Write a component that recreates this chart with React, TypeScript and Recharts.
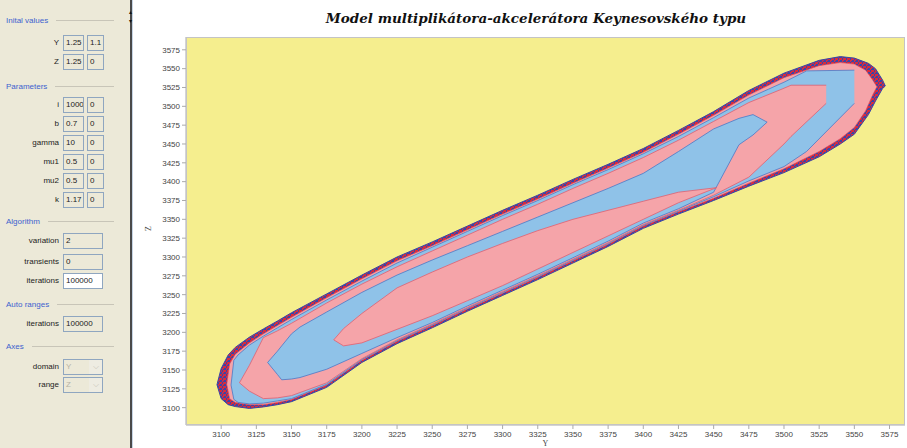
import React from "react";
import { ComposedChart, Area, XAxis, YAxis, CartesianGrid } from "recharts";

// contour levels of the attractor: [Y, Z low, Z high]
const ringLevel = [
  [3097, 3130.5, 3130.5], [3100, 3112, 3152], [3105, 3104, 3170], [3110, 3101.5, 3180],
  [3120, 3099, 3193.5], [3130, 3101, 3204.5], [3140, 3104, 3215], [3150, 3108, 3226],
  [3175, 3127, 3251], [3200, 3160, 3276], [3225, 3185, 3300], [3250, 3206, 3320],
  [3275, 3228, 3341], [3300, 3249, 3362], [3325, 3270, 3382], [3350, 3292, 3403],
  [3375, 3314, 3423], [3400, 3338, 3444], [3425, 3357, 3468], [3450, 3375, 3493],
  [3475, 3394, 3521], [3500, 3412, 3544], [3525, 3433, 3561], [3540, 3450, 3566],
  [3550, 3463, 3564], [3560, 3489, 3557], [3565, 3507, 3550], [3570, 3523.5, 3535],
  [3572, 3527, 3527],
];

const levelA = [
  [3104, 3131, 3131], [3106, 3112, 3158], [3110, 3107, 3171], [3120, 3104, 3186],
  [3130, 3104, 3198], [3140, 3107, 3209], [3150, 3111, 3220], [3175, 3130, 3246],
  [3200, 3163, 3271], [3225, 3188, 3295], [3250, 3209, 3315], [3275, 3231, 3336],
  [3300, 3252, 3357], [3325, 3273, 3377], [3350, 3295, 3398], [3375, 3317, 3418],
  [3400, 3341, 3439], [3425, 3360, 3463], [3450, 3378, 3488], [3475, 3398, 3515],
  [3500, 3417, 3538], [3525, 3440, 3554], [3540, 3457, 3558], [3550, 3472, 3556],
  [3558, 3494, 3548], [3563, 3515, 3535], [3566, 3526, 3526],
];

const levelB = [
  [3107, 3130, 3130], [3109, 3111, 3163], [3112, 3107, 3170], [3120, 3105, 3183],
  [3130, 3106, 3195], [3140, 3109, 3206], [3150, 3112, 3217], [3175, 3131, 3243],
  [3200, 3164, 3268], [3225, 3189, 3292], [3250, 3210, 3313], [3275, 3232, 3334],
  [3300, 3253, 3355], [3325, 3274, 3375], [3350, 3296, 3396], [3375, 3318, 3416],
  [3400, 3342, 3437], [3425, 3361, 3460], [3450, 3380, 3485], [3475, 3401, 3511],
  [3500, 3420, 3532], [3516, 3440, 3547], [3550, 3504, 3548],
];

const levelC = [
  [3113, 3133, 3133], [3120, 3122, 3156], [3130, 3112, 3193], [3140, 3113, 3202],
  [3150, 3116, 3212], [3175, 3133, 3239], [3200, 3165, 3264], [3225, 3190, 3287],
  [3250, 3211, 3308], [3275, 3233, 3329], [3300, 3254, 3350], [3325, 3275, 3370],
  [3350, 3297, 3391], [3375, 3319, 3411], [3400, 3343, 3432], [3425, 3362, 3455],
  [3450, 3382, 3480], [3475, 3406, 3505], [3500, 3450, 3524], [3505, 3460, 3528],
  [3530, 3504, 3528],
];

const levelD = [
  [3133, 3160, 3160], [3140, 3144, 3175], [3143, 3137, 3182], [3150, 3138, 3198],
  [3156, 3140, 3207], [3175, 3151, 3227], [3200, 3172, 3253], [3225, 3193, 3276],
  [3250, 3213, 3296], [3275, 3235, 3315], [3300, 3256, 3334], [3325, 3277, 3353],
  [3350, 3299, 3372], [3375, 3321, 3391], [3400, 3345, 3411], [3425, 3364, 3440],
  [3450, 3386, 3470], [3468, 3449, 3484], [3478, 3462, 3489], [3488, 3479, 3479],
];

const levelE = [
  [3180, 3190, 3190], [3187, 3182, 3205], [3200, 3186, 3225], [3225, 3204, 3259],
  [3250, 3222, 3280], [3275, 3242, 3300], [3300, 3262, 3318], [3325, 3284, 3335],
  [3350, 3306, 3350], [3375, 3328, 3362], [3400, 3350, 3374], [3425, 3372, 3386],
  [3452, 3392, 3392],
];

const axisTicks = [
  3100, 3125, 3150, 3175, 3200, 3225, 3250, 3275, 3300, 3325, 3350, 3375,
  3400, 3425, 3450, 3475, 3500, 3525, 3550, 3575,
];

const initialRows = [
  ["Y", "1.25", "1.1"],
  ["Z", "1.25", "0"],
];
const paramRows = [
  ["i", "1000", "0"],
  ["b", "0.7", "0"],
  ["gamma", "10", "0"],
  ["mu1", "0.5", "0"],
  ["mu2", "0.5", "0"],
  ["k", "1.17", "0"],
];

const toRows = (pts: number[][]) => pts.map(([x, lo, hi]) => ({ x, z: [lo, hi] }));

const PANEL_FONT = "'Liberation Sans', Arial, sans-serif";
const PINK = "#f5a4a9";
const BLUE = "#8fc2e8";

function Header({ y, text }: { y: number; text: string }) {
  return (
    <div style={{ position: "absolute", left: 6, top: y - 6, width: 108, height: 12, display: "flex", alignItems: "center" }}>
      <span style={{ color: "#3d62cf", fontSize: 8, whiteSpace: "nowrap" }}>{text}</span>
      <div style={{ flex: 1, height: 1, background: "#c8c5b8", marginLeft: 8 }} />
    </div>
  );
}

function Label({ y, text }: { y: number; text: string }) {
  return (
    <div style={{ position: "absolute", left: 0, width: 59, textAlign: "right", top: y - 6, fontSize: 8, color: "#222", whiteSpace: "nowrap", lineHeight: "12px" }}>
      {text}
    </div>
  );
}

function Box({ x, y, w, text, white, grey }: { x: number; y: number; w: number; text: string; white?: boolean; grey?: boolean }) {
  return (
    <div
      style={{
        position: "absolute", left: x, top: y - 8, width: w, height: 16, boxSizing: "border-box",
        border: "1px solid #8fa6c0", background: white ? "#fff" : "#ece9d8", overflow: "hidden",
        fontSize: 8, lineHeight: "14px", paddingLeft: 2, color: grey ? "#b5b2a5" : "#222", whiteSpace: "nowrap",
      }}
    >
      {text}
    </div>
  );
}

function Combo({ y, text }: { y: number; text: string }) {
  return (
    <div>
      <Box x={63} y={y} w={40} text={text} grey />
      <div style={{ position: "absolute", left: 89, top: y - 7, width: 13, height: 14, background: "#eeece2", color: "#c5c2b5", fontSize: 8, textAlign: "center", lineHeight: "14px" }}>⌵</div>
    </div>
  );
}

function Panel() {
  return (
    <div style={{ position: "absolute", left: 0, top: 0, width: 130, height: 448, background: "#ece9d8", fontFamily: PANEL_FONT }}>
      <Header y={20} text="Inital values" />
      {initialRows.map(([l, a, b], i) => (
        <div key={l}>
          <Label y={43 + i * 19} text={l} />
          <Box x={63} y={43 + i * 19} w={21} text={a} />
          <Box x={87} y={43 + i * 19} w={17} text={b} />
        </div>
      ))}
      <Header y={86} text="Parameters" />
      {paramRows.map(([l, a, b], i) => (
        <div key={l}>
          <Label y={105 + i * 19} text={l} />
          <Box x={63} y={105 + i * 19} w={21} text={a} />
          <Box x={87} y={105 + i * 19} w={17} text={b} />
        </div>
      ))}
      <Header y={221} text="Algorithm" />
      <Label y={241} text="variation" />
      <Box x={63} y={241} w={40} text="2" />
      <Label y={262} text="transients" />
      <Box x={63} y={262} w={40} text="0" />
      <Label y={281} text="iterations" />
      <Box x={63} y={281} w={40} text="100000" white />
      <Header y={304} text="Auto ranges" />
      <Label y={324} text="iterations" />
      <Box x={63} y={324} w={40} text="100000" />
      <Header y={346} text="Axes" />
      <Label y={367} text="domain" />
      <Combo y={367} text="Y" />
      <Label y={385} text="range" />
      <Combo y={385} text="Z" />
    </div>
  );
}

const tickStyle = { fontSize: 8, fill: "#444", fontFamily: PANEL_FONT };

export default function App() {
  return (
    <div style={{ position: "relative", width: 907, height: 448, background: "#fff", overflow: "hidden" }}>
      <style>{`body{margin:0}`}</style>
      <svg width={0} height={0} style={{ position: "absolute" }}>
        <defs>
          <pattern id="speckle" width="4" height="4" patternUnits="userSpaceOnUse">
            <rect width="4" height="4" fill="#d92a3c" />
            <rect x="0" y="0" width="2" height="2" fill="#3b45a6" />
            <rect x="2" y="2" width="1" height="2" fill="#3b45a6" />
            <rect x="3" y="1" width="1" height="1" fill="#3b45a6" />
          </pattern>
        </defs>
      </svg>
      <Panel />
      <div style={{ position: "absolute", left: 130, top: 0, width: 2, height: 448, background: "#4a4a4a" }} />
      <div style={{ position: "absolute", left: 132, top: 0, width: 1, height: 448, background: "#c6d4e4" }} />
      <div style={{ position: "absolute", left: 129, top: 9, fontSize: 6, lineHeight: "6px", color: "#111" }}>▴</div>
      <div style={{ position: "absolute", left: 129, top: 18, fontSize: 6, lineHeight: "6px", color: "#111" }}>▾</div>
      <div
        style={{
          position: "absolute", left: 536, top: 10, transform: "translateX(-50%)", whiteSpace: "nowrap",
          fontFamily: "'DejaVu Serif', serif", fontWeight: "bold", fontStyle: "italic", fontSize: 13.5, color: "#111",
        }}
      >
        Model multiplikátora-akcelerátora Keynesovského typu
      </div>
      <div style={{ position: "absolute", left: 140, top: 0 }}>
        <ComposedChart width={767} height={448} margin={{ top: 37, right: 2, bottom: 0, left: 0 }}>
          <CartesianGrid horizontal={false} vertical={false} fill="#f5ee8e" stroke="none" />
          <XAxis
            dataKey="x" type="number" domain={[3075, 3586]} ticks={axisTicks} allowDataOverflow
            height={23} tick={tickStyle} tickSize={4} stroke="#aaa"
            label={{ value: "Y", position: "insideBottom", offset: 2, fontSize: 8, fill: "#444" }}
          />
          <YAxis
            type="number" domain={[3077, 3592]} ticks={axisTicks} allowDataOverflow
            width={46} tick={tickStyle} tickSize={4} stroke="#aaa"
            label={{ value: "Z", angle: -90, position: "insideLeft", offset: 8, fontSize: 8, fill: "#444" }}
          />
          <Area data={toRows(ringLevel)} dataKey="z" type="linear" fill="url(#speckle)" fillOpacity={1} stroke="#3b45a6" strokeWidth={1} isAnimationActive={false} dot={false} activeDot={false} />
          <Area data={toRows(levelA)} dataKey="z" type="linear" fill={PINK} fillOpacity={1} stroke="#e0505e" strokeWidth={0.6} isAnimationActive={false} dot={false} activeDot={false} />
          <Area data={toRows(levelB)} dataKey="z" type="linear" fill={BLUE} fillOpacity={1} stroke="#4a78c6" strokeWidth={0.8} isAnimationActive={false} dot={false} activeDot={false} />
          <Area data={toRows(levelC)} dataKey="z" type="linear" fill={PINK} fillOpacity={1} stroke="#e06070" strokeWidth={0.8} isAnimationActive={false} dot={false} activeDot={false} />
          <Area data={toRows(levelD)} dataKey="z" type="linear" fill={BLUE} fillOpacity={1} stroke="#4a78c6" strokeWidth={0.8} isAnimationActive={false} dot={false} activeDot={false} />
          <Area data={toRows(levelE)} dataKey="z" type="linear" fill={PINK} fillOpacity={1} stroke="#e06070" strokeWidth={0.8} isAnimationActive={false} dot={false} activeDot={false} />
        </ComposedChart>
      </div>
      <div style={{ position: "absolute", left: 186, top: 37, width: 719, height: 388, boxSizing: "border-box", border: "1px solid #c4c4c4", pointerEvents: "none" }} />
    </div>
  );
}
